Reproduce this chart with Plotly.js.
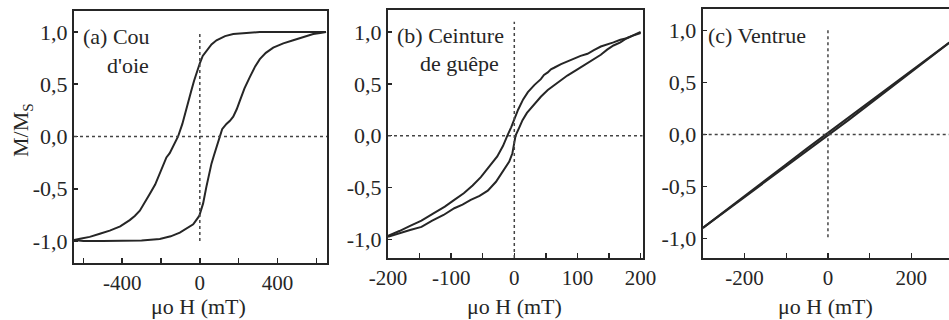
<!DOCTYPE html>
<html>
<head>
<meta charset="utf-8">
<script src="https://cdn.plot.ly/plotly-3.0.1.min.js"></script>
<style>
  html, body { margin: 0; padding: 0; overflow: hidden; background: #fff; }
  #chart { width: 960px; height: 320px; }
</style>
</head>
<body>
<div id="chart"></div>
<script>
// (a) Cou d'oie : descending branch (from +saturation) and ascending branch
const aDescH = [650, 560, 450, 309, 240, 172, 130, 86, 60, 34, 15, 0, -15, -30, -45, -60, -75, -90, -112, -130, -155, -172, -190, -206, -230, -258, -285, -309, -335, -361, -410, -464, -515, -567, -610, -650];
const aDescM = [1.0, 1.0, 1.0, 0.998, 0.99, 0.98, 0.96, 0.92, 0.88, 0.82, 0.77, 0.70, 0.62, 0.53, 0.43, 0.33, 0.23, 0.12, 0.0, -0.07, -0.16, -0.2, -0.28, -0.36, -0.46, -0.55, -0.64, -0.71, -0.76, -0.8, -0.86, -0.9, -0.93, -0.96, -0.975, -0.99];
const aAscH = [-650, -600, -500, -400, -300, -206, -150, -103, -70, -34, -3, 17, 34, 47, 60, 73, 86, 100, 115, 137, 155, 172, 190, 206, 230, 258, 285, 309, 340, 378, 430, 481, 530, 584, 620, 650];
const aAscM = [-0.99, -1.0, -1.0, -1.0, -0.995, -0.98, -0.955, -0.92, -0.885, -0.84, -0.76, -0.64, -0.48, -0.36, -0.26, -0.18, -0.1, 0.0, 0.07, 0.12, 0.15, 0.19, 0.26, 0.34, 0.46, 0.57, 0.67, 0.74, 0.8, 0.85, 0.89, 0.92, 0.95, 0.98, 0.99, 1.0];

// (b) Ceinture de guêpe
const bDescH = [200, 197, 188, 178, 168, 157, 147, 137, 126, 116, 105, 95, 84, 74, 63, 58, 53, 47, 42, 32, 21.5, 14, 6, 0, -5, -11, -18, -27, -40, -53, -66, -80, -95, -110, -128, -147, -165, -182, -200];
const bDescM = [1.0, 0.99, 0.968, 0.94, 0.925, 0.9, 0.88, 0.86, 0.825, 0.79, 0.77, 0.745, 0.715, 0.69, 0.655, 0.64, 0.61, 0.585, 0.545, 0.49, 0.42, 0.35, 0.25, 0.15, 0.08, 0.0, -0.1, -0.2, -0.3, -0.4, -0.48, -0.555, -0.62, -0.685, -0.75, -0.82, -0.87, -0.92, -0.965];
const bAscH = [-200, -182, -165, -147, -138, -130, -112, -95, -82, -69, -55, -42, -29, -16, -8, -3, 2, 8, 13, 20, 32, 42, 53, 68, 84, 100, 116, 126, 137, 147, 157, 168, 178, 188, 200];
const bAscM = [-0.975, -0.94, -0.91, -0.88, -0.845, -0.82, -0.765, -0.70, -0.665, -0.62, -0.58, -0.53, -0.445, -0.33, -0.25, -0.17, 0.0, 0.08, 0.15, 0.22, 0.31, 0.375, 0.44, 0.51, 0.58, 0.64, 0.70, 0.735, 0.78, 0.83, 0.87, 0.9, 0.94, 0.965, 0.99];

// (c) Ventrue
const cH = [-300, -250, -200, -150, -100, -50, 0, 50, 100, 150, 200, 250, 300];
const cUpperM = [-0.90, -0.745, -0.592, -0.44, -0.287, -0.135, 0.015, 0.166, 0.318, 0.468, 0.618, 0.765, 0.91];
const cLowerM = [-0.90, -0.752, -0.605, -0.456, -0.307, -0.16, -0.012, 0.14, 0.294, 0.447, 0.602, 0.756, 0.91];

// Tick positions and labels
const yTickVals = [-1, -0.5, 0, 0.5, 1];
const yTickText = ['-1,0', '-0,5', '0,0', '0,5', '1,0'];
const aTickVals = [-400, 0, 400];
const aTickText = ['-400', '0', '400'];
const aMinorVals = [-600, -200, 200, 600];
const bTickVals = [-200, -100, 0, 100, 200];
const bTickText = ['-200', '-100', '0', '100', '200'];
const bMinorVals = [-150, -50, 50, 150];
const cTickVals = [-200, 0, 200];
const cTickText = ['-200', '0', '200'];
const cMinorVals = [-100, 100];

const ink = '#262626';
const serif = '"Liberation Serif", "Times New Roman", serif';
const W = 960, Hh = 320;

const line = { color: ink, width: 2 };
const traces = [
  { x: aDescH, y: aDescM, xaxis: 'x', yaxis: 'y' },
  { x: aAscH, y: aAscM, xaxis: 'x', yaxis: 'y' },
  { x: bDescH, y: bDescM, xaxis: 'x2', yaxis: 'y2' },
  { x: bAscH, y: bAscM, xaxis: 'x2', yaxis: 'y2' },
  { x: cH, y: cUpperM, xaxis: 'x3', yaxis: 'y3' },
  { x: cH, y: cLowerM, xaxis: 'x3', yaxis: 'y3' }
].map(t => Object.assign({ type: 'scatter', mode: 'lines', line: line, hoverinfo: 'skip' }, t));

function xAxis(domain, range, vals, text, minorVals, anchor) {
  return {
    domain: domain, range: range, anchor: anchor,
    tickmode: 'array', tickvals: vals, ticktext: text,
    ticks: 'inside', ticklen: 5, tickwidth: 1.5, tickcolor: ink,
    minor: { tickmode: 'array', tickvals: minorVals, ticks: 'inside', ticklen: 5, tickwidth: 1.5, tickcolor: ink, showgrid: false },
    showline: true, linewidth: 2, linecolor: ink, mirror: true,
    showgrid: false, zeroline: false,
    tickfont: { family: serif, size: 21, color: ink }
  };
}
function yAxis(domain, range, anchor) {
  return {
    domain: domain, range: range, anchor: anchor,
    tickmode: 'array', tickvals: yTickVals, ticktext: yTickText,
    ticks: 'inside', ticklen: 4, tickwidth: 1.5, tickcolor: ink,
    showline: true, linewidth: 2, linecolor: ink, mirror: true,
    showgrid: false, zeroline: false,
    tickfont: { family: serif, size: 22, color: ink }
  };
}

const dot = { color: '#444', width: 1.5, dash: 'dot' };
function refLines(xr, yr, vy0, vy1) {
  return [
    { type: 'line', xref: xr + ' domain', x0: 0, x1: 1, yref: yr, y0: 0, y1: 0, line: dot },
    { type: 'line', xref: xr, x0: 0, x1: 0, yref: yr, y0: vy0, y1: vy1, line: dot }
  ];
}

function txt(text, px, py, anchor, size, angle) {
  return {
    text: text, xref: 'paper', yref: 'paper',
    x: px / W, y: (Hh - py) / Hh, xanchor: anchor, yanchor: 'middle',
    showarrow: false, textangle: angle || 0, borderpad: 0,
    font: { family: serif, size: size, color: ink }
  };
}

const layout = {
  width: W, height: Hh,
  margin: { l: 0, r: 0, t: 0, b: 0 },
  paper_bgcolor: '#fff', plot_bgcolor: '#fff',
  showlegend: false,
  xaxis: xAxis([74 / W, 327 / W], [-648, 655], aTickVals, aTickText, aMinorVals, 'y'),
  yaxis: yAxis([57 / Hh, 309 / Hh], [-1.21, 1.2], 'x'),
  xaxis2: xAxis([388 / W, 642.5 / W], [-200, 203], bTickVals, bTickText, bMinorVals, 'y2'),
  yaxis2: yAxis([62 / Hh, 310.5 / Hh], [-1.18, 1.217], 'x2'),
  xaxis3: xAxis([702.7 / W, 953 / W], [-300.5, 300], cTickVals, cTickText, cMinorVals, 'y3'),
  yaxis3: yAxis([62 / Hh, 311 / Hh], [-1.19, 1.207], 'x3'),
  shapes: [].concat(
    refLines('x', 'y', -1, 1),
    refLines('x2', 'y2', -1.18, 1.1),
    refLines('x3', 'y3', -0.99, 1.02)
  ),
  annotations: [
    txt('(a) Cou', 82, 37, 'left', 22),
    txt("d'oie", 106, 65, 'left', 22),
    txt('(b) Ceinture', 396, 35, 'left', 22),
    txt('de guêpe', 419, 63, 'left', 22),
    txt('(c) Ventrue', 707, 35, 'left', 22),
    txt('M/M<sub>S</sub>', 22, 130, 'center', 22, -90),
    txt('μo H (mT)', 198, 306, 'center', 22),
    txt('μo H (mT)', 514, 306, 'center', 22),
    txt('μo H (mT)', 825, 306, 'center', 22)
  ]
};

Plotly.newPlot('chart', traces, layout, { staticPlot: true, displayModeBar: false });
</script>
</body>
</html>
